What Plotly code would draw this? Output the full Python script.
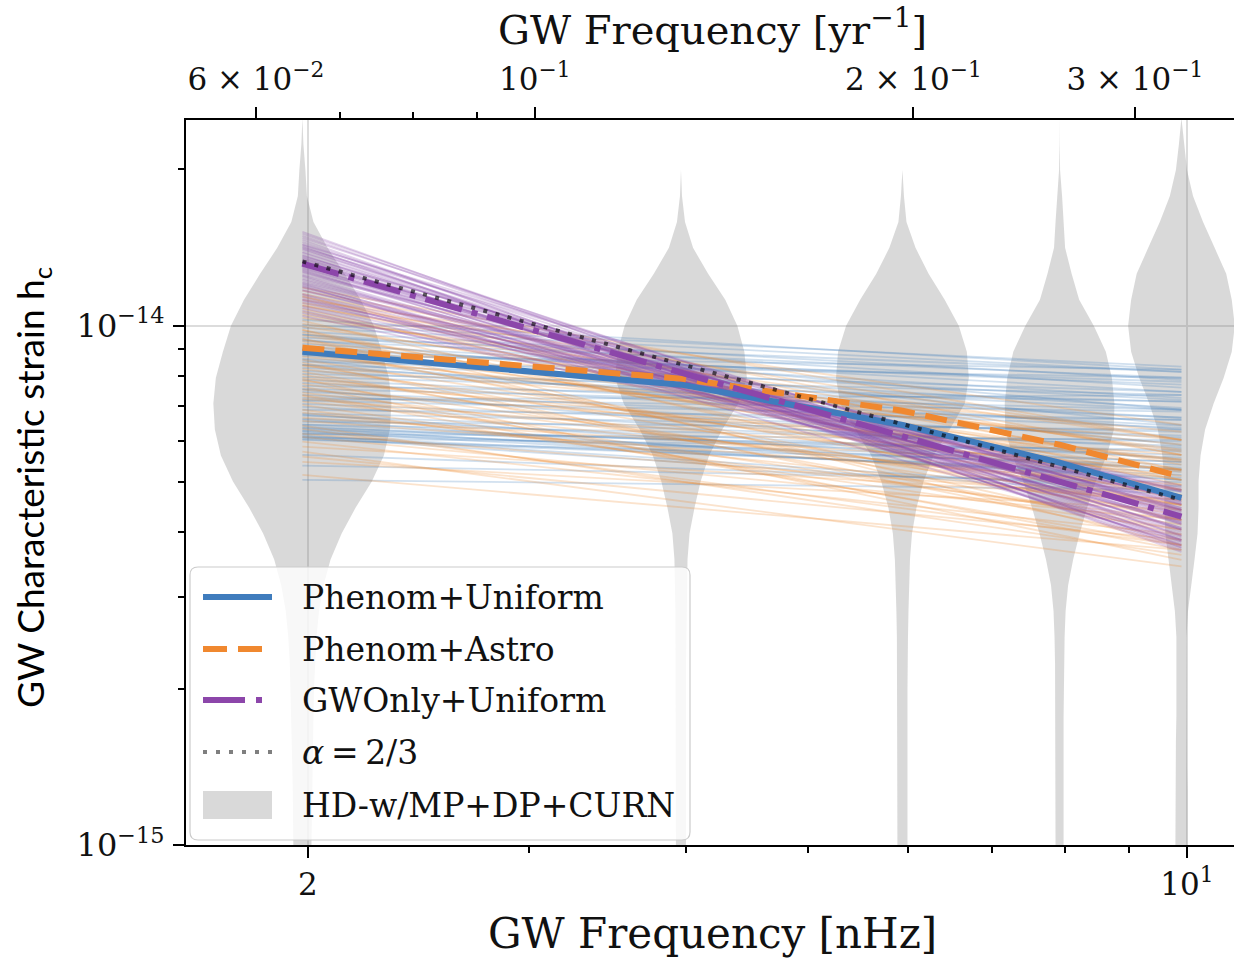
import math
import plotly.graph_objects as go

# ---------------------------------------------------------------------------
# Data
# ---------------------------------------------------------------------------
# Frequency bins of the free-spectrum (nHz)
freqs_nhz = [1.98, 3.96, 5.94, 7.92, 9.90]

# Conversion nHz -> 1/yr used for the top axis
nhz_to_per_yr = 0.033

# Characteristic strain values below are given in units of 1e-15
hc_unit = 1e-15

# Free-spectrum violins: relative density tabulated on a log10(h_c) grid
violin_log_hc = [-13.60, -13.65, -13.70, -13.75, -13.80, -13.85, -13.90, -13.95,
                 -14.00, -14.05, -14.10, -14.15, -14.20, -14.25, -14.30, -14.35,
                 -14.40, -14.45, -14.50, -14.55, -14.60, -14.65, -14.70, -14.75,
                 -14.80, -14.85, -14.90, -14.95, -15.00]
violin_density_f1 = [0, 1, 3, 4.5, 11, 25, 42, 58, 71, 79, 86, 88.5, 87, 81, 69,
                     53, 39, 28, 21, 16.5, 14, 12.5, 11.5, 11, 10.5, 10, 9.5, 9, 9]
violin_density_f2 = [0, 0, 0, 1, 4, 12, 27, 44, 56, 63, 65.5, 57, 41, 28, 19.5,
                     13.5, 8.5, 6.5, 6, 5.5, 5, 5, 5, 5, 5, 5, 5, 5, 5]
violin_density_f3 = [0, 0, 0, 1.5, 4, 13, 26, 42, 56, 64, 66, 62, 47, 31, 21,
                     14, 9.5, 7.5, 6.5, 6, 5.5, 5, 5, 5, 5, 5, 5, 5, 5]
violin_density_f4 = [0, 0, 0.5, 2.5, 4, 5.5, 12, 19.5, 34, 46, 52, 54.5, 54, 47, 36,
                     27.5, 20, 13.5, 8.5, 6, 5, 4.5, 4, 4, 4, 4, 4, 4, 4]
violin_density_f5 = [0, 2.5, 5.5, 11.5, 21.5, 33, 44.5, 50, 53, 50, 42, 32, 23.5, 19, 17,
                     17, 16, 13, 9.5, 6.5, 5, 5, 5, 5, 5.5, 5.5, 6, 6, 6]

# Posterior draws: h_c (1e-15) at the lowest and highest frequency bin
phenom_uniform_draws_lo = [10.04, 9.74, 9.49, 9.23, 8.99, 8.75, 8.52, 8.30, 8.08, 7.87, 7.66,
                           7.46, 7.26, 7.07, 6.89, 6.71, 6.53, 6.36, 6.19, 6.03, 6.30, 6.12,
                           6.20, 5.38, 6.40, 5.05, 9.40, 8.60, 7.53, 6.59, 8.79, 7.20,
                           9.91, 9.61, 9.35, 9.11, 8.87, 8.64, 8.41, 8.19, 7.97, 7.76, 7.56,
                           7.36, 7.17, 6.98, 6.77, 6.62, 6.45, 6.27, 6.08, 6.25, 6.45, 5.64,
                           6.05, 6.15, 6.35, 9.61, 8.41, 6.74, 6.10, 10.27]
phenom_uniform_draws_hi = [8.34, 7.87, 8.15, 7.46, 7.70, 7.20, 7.94, 6.89, 7.36, 6.65, 7.14,
                           6.36, 6.83, 6.14, 6.59, 5.87, 6.31, 5.64, 6.03, 5.40, 5.72, 5.16,
                           5.47, 5.00, 5.28, 4.83, 6.44, 5.90, 5.52, 5.05, 8.23, 7.35,
                           8.15, 7.60, 7.94, 7.26, 7.80, 6.95, 7.46, 6.65, 7.14, 6.42, 6.89,
                           6.08, 6.59, 5.82, 6.25, 5.57, 5.98, 5.33, 5.77, 5.10, 5.47, 4.91,
                           5.23, 4.79, 5.05, 6.89, 6.31, 5.28, 4.72, 8.23]

phenom_astro_draws_lo = [11.84, 11.52, 11.22, 10.92, 10.64, 10.36, 10.09, 9.82, 9.57, 9.32, 9.07,
                         8.83, 8.60, 8.37, 8.16, 7.94, 7.73, 7.53, 7.33, 7.14, 6.89, 6.65,
                         6.42, 6.19, 5.98, 5.72, 5.47, 5.16, 11.42, 9.82, 8.99, 7.88,
                         11.68, 11.37, 11.07, 10.78, 10.50, 10.22, 9.96, 9.70, 9.44, 9.19,
                         8.95, 8.72, 8.49, 8.26, 8.05, 7.83, 7.63, 7.43, 7.23, 7.04, 6.80,
                         6.56, 6.33, 6.11, 5.85, 5.60, 10.97, 9.40, 8.41, 7.36]
phenom_astro_draws_hi = [6.03, 5.28, 6.44, 5.64, 4.83, 6.03, 5.28, 4.52, 5.77, 5.05, 4.23,
                         5.52, 4.72, 6.03, 4.05, 5.14, 4.52, 5.64, 3.78, 4.83, 4.23, 5.28,
                         3.62, 4.62, 3.96, 3.44, 4.42, 3.70, 4.42, 3.78, 6.25, 3.54,
                         5.64, 4.94, 6.03, 4.62, 5.40, 4.23, 5.72, 4.83, 3.96, 5.23,
                         4.52, 5.90, 3.87, 5.05, 4.32, 5.52, 3.70, 4.72, 5.28, 4.05, 4.52,
                         4.94, 3.78, 4.23, 4.62, 3.87, 5.05, 5.47, 4.42, 4.14]

gwonly_uniform_draws_lo = [15.17, 14.90, 14.64, 14.38, 14.19, 14.00, 13.82, 13.64, 13.52, 13.35,
                           13.23, 13.06, 12.94, 12.77, 12.66, 12.49, 12.32, 12.16, 12.00, 11.84,
                           11.68, 11.47, 11.26, 11.07, 10.83, 10.59, 14.13, 12.83, 13.46, 12.05,
                           15.04, 14.77, 14.51, 14.32, 14.07, 13.88, 13.70, 13.58, 13.40, 13.29,
                           13.11, 12.99, 12.88, 12.71, 12.54, 12.43, 12.26, 12.10, 11.89, 11.73,
                           11.52, 11.37, 11.17, 10.92, 10.69, 10.45, 14.26, 13.17, 11.94, 11.22]
gwonly_uniform_draws_hi = [3.74, 3.87, 3.67, 4.05, 3.78, 4.14, 3.94, 4.23, 3.84, 4.34,
                           4.08, 4.46, 4.01, 4.27, 4.62, 4.16, 4.42, 4.70, 4.31, 4.52,
                           4.83, 4.38, 4.66, 4.92, 4.58, 4.79, 4.42, 3.87, 4.58, 4.05,
                           3.94, 4.16, 3.77, 4.38, 3.87, 4.05, 3.74, 4.42, 3.97, 4.19,
                           3.80, 4.31, 4.54, 4.08, 4.79, 3.91, 4.34, 4.62, 4.19, 4.46,
                           4.70, 4.23, 4.54, 4.83, 4.42, 4.66, 3.70, 4.66, 3.84, 4.87]

# Median spectra (1e-15)
phenom_uniform_median = [8.91, 7.70, 6.44, 5.45, 4.66]       # at every bin
phenom_astro_median = [9.07, 7.91, 6.86, 5.90, 5.12]         # at every bin
gwonly_uniform_median = [13.17, 4.29]                        # at lowest / highest bin
alpha_two_thirds = [13.30, 4.62]                             # at lowest / highest bin

# Axis limits and tick labels
x_range_nhz = [1.6, 10.9]
y_range_hc = [1e-15, 2.49e-14]
x_tickvals = [2, 10]
x_ticktext = ["2", "10<sup>1</sup>"]
x_minor_tickvals = [3, 4, 5, 6, 7, 8, 9]
top_tickvals = [0.06, 0.1, 0.2, 0.3]
top_ticktext = ["6 × 10<sup>−2</sup>", "10<sup>−1</sup>", "2 × 10<sup>−1</sup>", "3 × 10<sup>−1</sup>"]
top_minor_tickvals = [0.07, 0.08, 0.09]
y_tickvals = [1e-15, 1e-14]
y_ticktext = ["10<sup>−15</sup>", "10<sup>−14</sup>"]
y_minor_tickvals = [2e-15, 3e-15, 4e-15, 5e-15, 6e-15, 7e-15, 8e-15, 9e-15, 2e-14]

legend_labels = ["Phenom+Uniform", "Phenom+Astro", "GWOnly+Uniform",
                 "<i>α</i>\u2009=\u20092/3", "HD-w/MP+DP+CURN"]

# ---------------------------------------------------------------------------
# Styles
# ---------------------------------------------------------------------------
BLUE = "#3f7cbd"
ORANGE = "#f0882f"
PURPLE = "#8c46aa"
VIOLIN_FILL = "rgba(128,128,128,0.30)"
DOTTED = "rgba(0,0,0,0.62)"
DRAW_ALPHA = 0.24
DRAW_WIDTH = 1.8
VIOLIN_SCALE = 0.0008          # half-width in decades of frequency per density unit
SERIF = "DejaVu Serif"
SANS = "Lato"

W, H = 1234, 961
PLOT_L, PLOT_R, PLOT_T, PLOT_B = 186, 1234, 120, 845


def rgba(hex_color, a):
    h = hex_color.lstrip("#")
    r, g, b = int(h[0:2], 16), int(h[2:4], 16), int(h[4:6], 16)
    return f"rgba({r},{g},{b},{a})"


def paper(x, y):
    """Pixel position -> paper coordinates of the plotting area."""
    return ((x - PLOT_L) / (PLOT_R - PLOT_L), (PLOT_B - y) / (PLOT_B - PLOT_T))


fig = go.Figure()

# Violins
for fc, dens in zip(freqs_nhz, [violin_density_f1, violin_density_f2, violin_density_f3,
                                 violin_density_f4, violin_density_f5]):
    hc = [10 ** v for v in violin_log_hc]
    xr = [fc * 10 ** (VIOLIN_SCALE * d) for d in dens]
    xl = [fc * 10 ** (-VIOLIN_SCALE * d) for d in dens]
    fig.add_trace(go.Scatter(
        x=xr + xl[::-1], y=hc + hc[::-1], mode="lines", fill="toself",
        fillcolor=VIOLIN_FILL, line=dict(width=0), hoverinfo="skip", showlegend=False))

f_lo, f_hi = freqs_nhz[0], freqs_nhz[-1]

# Posterior draws
for lo_list, hi_list, col in [
    (phenom_uniform_draws_lo, phenom_uniform_draws_hi, BLUE),
    (phenom_astro_draws_lo, phenom_astro_draws_hi, ORANGE),
    (gwonly_uniform_draws_lo, gwonly_uniform_draws_hi, PURPLE),
]:
    for lo, hi in zip(lo_list, hi_list):
        fig.add_trace(go.Scatter(
            x=[f_lo, f_hi], y=[lo * hc_unit, hi * hc_unit], mode="lines",
            line=dict(color=rgba(col, DRAW_ALPHA), width=DRAW_WIDTH),
            hoverinfo="skip", showlegend=False))

# Medians
fig.add_trace(go.Scatter(x=freqs_nhz, y=[v * hc_unit for v in phenom_uniform_median],
                         mode="lines", line=dict(color=BLUE, width=6),
                         name="Phenom+Uniform", showlegend=False))
fig.add_trace(go.Scatter(x=freqs_nhz, y=[v * hc_unit for v in phenom_astro_median],
                         mode="lines", line=dict(color=ORANGE, width=6, dash="22px,11px"),
                         name="Phenom+Astro", showlegend=False))
fig.add_trace(go.Scatter(x=[f_lo, f_hi], y=[v * hc_unit for v in gwonly_uniform_median],
                         mode="lines",
                         line=dict(color=PURPLE, width=6, dash="38px,10px,6px,10px"),
                         name="GWOnly+Uniform", showlegend=False))
fig.add_trace(go.Scatter(x=[f_lo, f_hi], y=[v * hc_unit for v in alpha_two_thirds],
                         mode="lines", line=dict(color=DOTTED, width=4, dash="4px,8.5px"),
                         name="alpha=2/3", showlegend=False))

# Invisible point so the top axis is rendered
fig.add_trace(go.Scatter(x=[x_range_nhz[0] * nhz_to_per_yr], y=[y_range_hc[0]],
                         xaxis="x2", mode="markers", marker=dict(opacity=0),
                         hoverinfo="skip", showlegend=False))

tick_font = dict(family=SERIF, size=31, color="#111111")
axis_common = dict(showline=True, linecolor="black", linewidth=2, ticks="outside",
                   ticklen=11, tickwidth=2, tickcolor="black", zeroline=False,
                   tickfont=tick_font)

x_log_range = [math.log10(v) for v in x_range_nhz]
fig.update_layout(
    width=W, height=H, autosize=False,
    margin=dict(l=PLOT_L, r=W - PLOT_R, t=PLOT_T, b=H - PLOT_B, pad=0),
    paper_bgcolor="white", plot_bgcolor="white",
    xaxis=dict(type="log", range=x_log_range, tickmode="array",
               tickvals=x_tickvals, ticktext=x_ticktext,
               showgrid=True, gridcolor="#dcdcdc", gridwidth=1.5,
               minor=dict(tickmode="array", tickvals=x_minor_tickvals, ticks="outside",
                          ticklen=6, tickwidth=1.5, tickcolor="black", showgrid=False),
               ticklabelstandoff=0, **axis_common),
    xaxis2=dict(type="log", overlaying="x", side="top",
                range=[v + math.log10(nhz_to_per_yr) for v in x_log_range],
                tickmode="array", tickvals=top_tickvals, ticktext=top_ticktext,
                showgrid=False,
                minor=dict(tickmode="array", tickvals=top_minor_tickvals, ticks="outside",
                           ticklen=6, tickwidth=1.5, tickcolor="black", showgrid=False),
                ticklabelstandoff=5, **axis_common),
    yaxis=dict(type="log", range=[math.log10(v) for v in y_range_hc], tickmode="array",
               tickvals=y_tickvals, ticktext=y_ticktext,
               showgrid=True, gridcolor="#dcdcdc", gridwidth=1.5,
               minor=dict(tickmode="array", tickvals=y_minor_tickvals, ticks="outside",
                          ticklen=6, tickwidth=1.5, tickcolor="black", showgrid=False),
               ticklabelstandoff=2, **dict(axis_common, tickfont=dict(tick_font, size=32))),
    showlegend=False,
)

annotations = []
shapes = []

# Axis titles
bx, by = paper(712, 933)
annotations.append(dict(text="GW Frequency [nHz]", x=bx, y=by, xref="paper", yref="paper",
                        showarrow=False, xanchor="center", yanchor="middle",
                        font=dict(family=SERIF, size=42, color="#111111")))
tx, ty = paper(712, 27)
annotations.append(dict(text="GW Frequency [yr<sup>−1</sup>]", x=tx, y=ty, xref="paper",
                        yref="paper", showarrow=False, xanchor="center", yanchor="middle",
                        font=dict(family=SERIF, size=40, color="#111111")))
lx, ly = paper(32, 488)
annotations.append(dict(text="GW Characteristic strain h<sub>c</sub>", x=lx, y=ly,
                        xref="paper", yref="paper", showarrow=False, textangle=-90,
                        xanchor="center", yanchor="middle",
                        font=dict(family=SANS, size=37, color="black")))

# Legend box with rounded corners
bx0, by0, bx1, by1, rad = 190, 567, 690, 840, 8
px0, py1 = paper(bx0, by0)
px1, py0 = paper(bx1, by1)
rx = rad / (PLOT_R - PLOT_L)
ry = rad / (PLOT_B - PLOT_T)
box_path = (f"M {px0 + rx},{py1} L {px1 - rx},{py1} Q {px1},{py1} {px1},{py1 - ry} "
            f"L {px1},{py0 + ry} Q {px1},{py0} {px1 - rx},{py0} "
            f"L {px0 + rx},{py0} Q {px0},{py0} {px0},{py0 + ry} "
            f"L {px0},{py1 - ry} Q {px0},{py1} {px0 + rx},{py1} Z")
shapes.append(dict(type="path", path=box_path, xref="paper", yref="paper",
                   fillcolor="rgba(255,255,255,0.8)", line=dict(color="#cccccc", width=1.2)))

row_y = [597, 649, 700, 752, 805]
sample_x0, sample_x1, text_x = 203, 272, 300
sample_styles = [
    dict(color=BLUE, width=6, dash="solid"),
    dict(color=ORANGE, width=6, dash="24px,11px"),
    dict(color=PURPLE, width=6, dash="42px,11px,6px,11px"),
    dict(color="rgba(0,0,0,0.5)", width=4, dash="4px,9px"),
]
for i, label in enumerate(legend_labels):
    yy = row_y[i]
    if i < 4:
        x0p, y0p = paper(sample_x0, yy)
        x1p, _ = paper(sample_x1, yy)
        shapes.append(dict(type="line", xref="paper", yref="paper", x0=x0p, x1=x1p,
                           y0=y0p, y1=y0p, line=sample_styles[i]))
    else:
        x0p, y0p = paper(sample_x0, yy + 14)
        x1p, y1p = paper(sample_x1, yy - 14)
        shapes.append(dict(type="rect", xref="paper", yref="paper", x0=x0p, x1=x1p,
                           y0=y0p, y1=y1p, fillcolor=VIOLIN_FILL, line=dict(width=0)))
    txp, typ = paper(text_x, yy)
    annotations.append(dict(text=label, x=txp, y=typ, xref="paper", yref="paper",
                            showarrow=False, xanchor="left", yanchor="middle",
                            font=dict(family=SERIF, size=33, color="#111111")))

fig.update_layout(annotations=annotations, shapes=shapes)

fig.write_html("out.html")
